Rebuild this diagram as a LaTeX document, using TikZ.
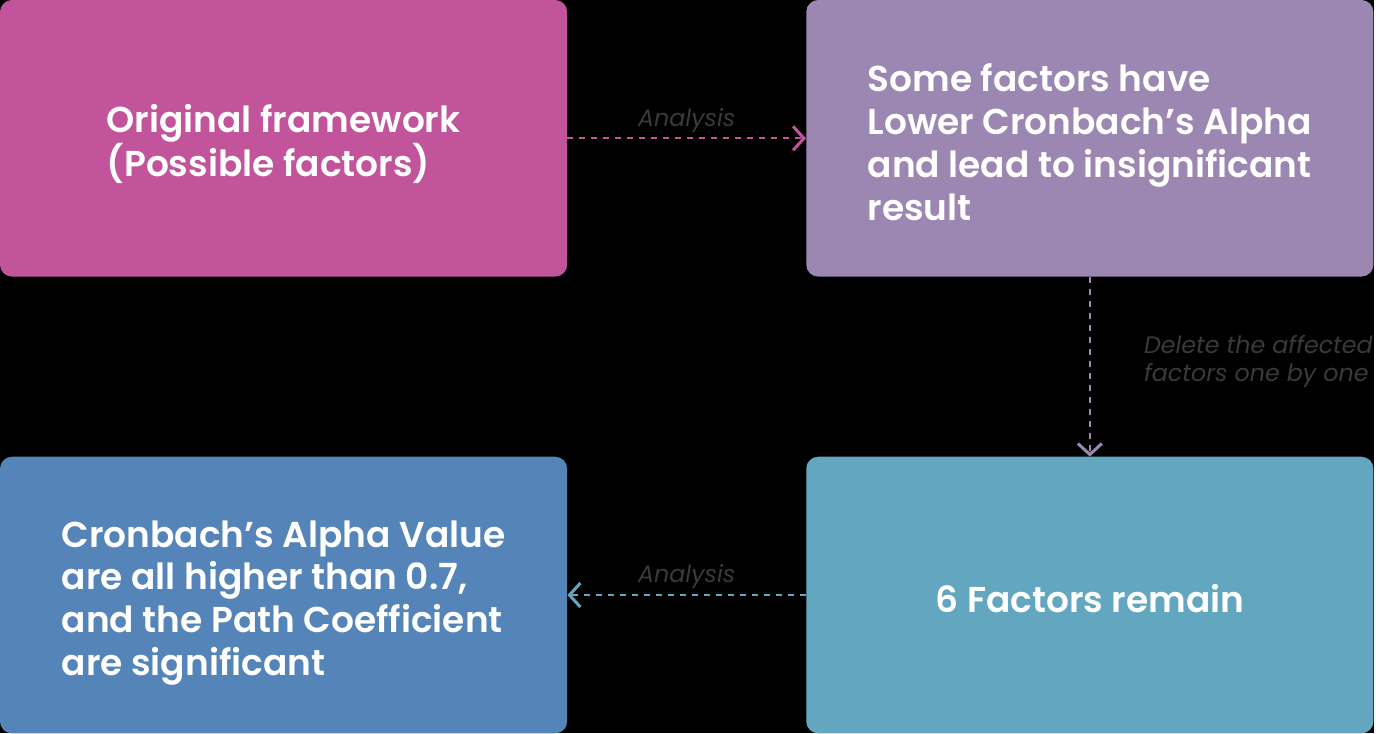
\documentclass[tikz,border=0pt]{standalone}
\usepackage{fontspec}
\setmainfont{Poppins}
\newfontfamily\semibold{Poppins SemiBold}
\usepackage{tikz}
\usetikzlibrary{positioning, arrows.meta}

\definecolor{boxPink}{HTML}{C2549C}
\definecolor{boxLilac}{HTML}{9B87B2}
\definecolor{boxBlue}{HTML}{5585B8}
\definecolor{boxTeal}{HTML}{63A6BF}
\definecolor{labelGray}{HTML}{3A3A3A}

\begin{document}
\begin{tikzpicture}[x=1pt, y=1pt,
    stagebox/.style={fill=#1, rounded corners=12pt, minimum width=568pt, minimum height=277pt, inner sep=0pt},
    stagetext/.style={align=left, text=white, inner sep=0pt, font=\fontsize{36}{43}\semibold},
    flowarrow/.style={draw=#1, line width=2pt, dash pattern=on 6pt off 6pt, -{Straight Barb[length=11pt, width=24pt, line width=3pt]}},
    steplabel/.style={text=labelGray, font=\fontsize{23.8}{28}\selectfont\itshape, align=left}]
    % Background and frame
    \fill[black] (0,0) rectangle (1376,734);
    % Stage boxes
    \node[stagebox=boxPink] (origbox) at (284,595.5) {};
    \node[stagebox=boxLilac, right=239pt of origbox] (lowalpha) {};
    \node[stagebox=boxTeal, below=180pt of lowalpha] (sixfactors) {};
    \node[stagebox=boxBlue, left=239pt of sixfactors] (alphavalue) {};
    % Box texts
    \node[stagetext] (origtext) at ([yshift=-6pt]origbox.center) {Original framework\\(Possible factors)};
    \node[stagetext] (lowtext) at ([yshift=-4pt]lowalpha.center) {Some factors have\\Lower Cronbach’s Alpha\\and lead to insignificant\\result};
    \node[stagetext] (sixtext) at ([yshift=-4pt]sixfactors.center) {6 Factors remain};
    \node[stagetext] (alphatext) at ([yshift=-8pt]alphavalue.center) {Cronbach’s Alpha Value\\are all higher than 0.7,\\and the Path Coefficient\\are significant};
    % Connectors with labels
    \draw[flowarrow=boxPink] (origbox) -- (lowalpha) node[midway, above=1pt, steplabel]{Analysis};
    \draw[flowarrow=boxLilac] (lowalpha) -- (sixfactors) node[midway, right=50pt, yshift=5pt, steplabel]{Delete the affected\\factors one by one};
    \draw[flowarrow=boxTeal] (sixfactors) -- (alphavalue) node[midway, above=2pt, steplabel]{Analysis};
\end{tikzpicture}
\end{document}
